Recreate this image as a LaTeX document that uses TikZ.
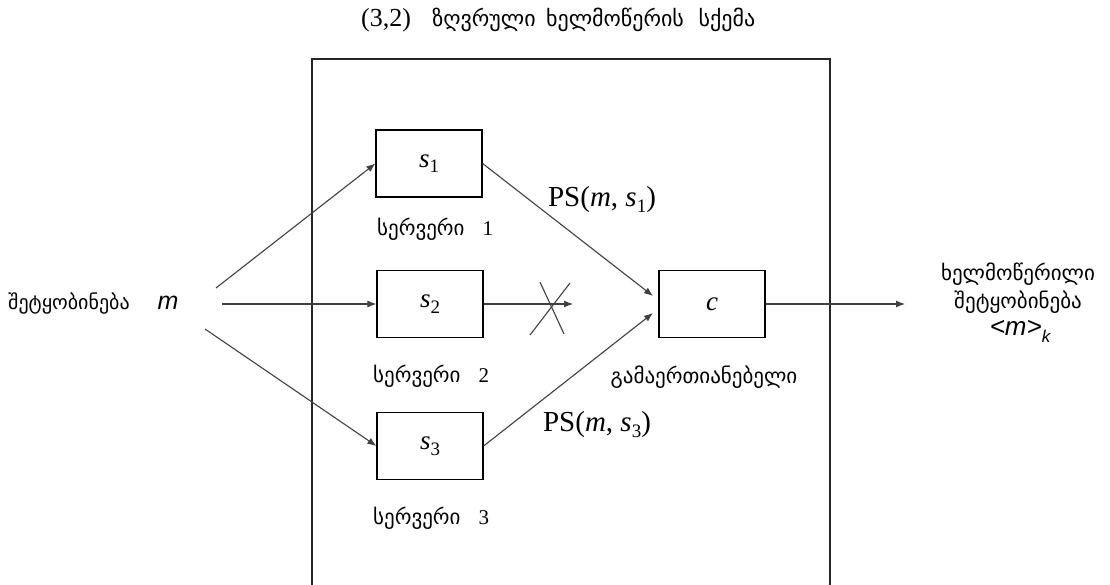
\documentclass[tikz,border=0pt]{standalone}
\usepackage{fontspec}
\setmainfont{Liberation Serif}
\setsansfont{Liberation Sans}
\newfontfamily\geo{DejaVu Sans}
\usetikzlibrary{arrows.meta}

% lowered subscript for the server and signature symbols
\newcommand{\lowsub}[1]{\raisebox{-0.45ex}{\fontsize{19}{19}\selectfont #1}}

\tikzset{
  frame/.style={draw=black!85, line width=1.6pt},
  srvbox/.style={draw, line width=1.2pt, minimum width=106pt, minimum height=67pt,
                 inner sep=0pt, font=\fontsize{27}{27}\selectfont},
  conn/.style={draw=black!75, line width=1.1pt, -{Latex[length=9pt,width=7pt]}},
  plain/.style={draw=black!75, line width=1.1pt},
  geotext/.style={inner sep=0pt, font=\fontsize{21}{24}\selectfont},
  titletext/.style={inner sep=0pt, font=\fontsize{26}{28}\selectfont},
  titlegeo/.style={inner sep=0pt, font=\fontsize{22}{26}\selectfont\geo},
  pslabel/.style={inner sep=0pt, font=\fontsize{29}{31}\selectfont},
}

\begin{document}
\begin{tikzpicture}[x=1pt,y=-1pt]
  \useasboundingbox (0,0) rectangle (1110,585);

  % title
  \node[titletext] (t0) at (386,20) {(3,2)};
  \node[titlegeo]  (t1) at (484,20) {ზღვრული};
  \node[titlegeo]  (t2) at (615,20) {ხელმოწერის};
  \node[titlegeo]  (t3) at (727,20) {სქემა};

  % enclosing frame, open at the bottom
  \draw[frame] (312,585) -- (312,59) -- (830,59) -- (830,585);

  % servers and combiner
  \node[srvbox] (s1) at (429,163.5) {\textit{s}\lowsub{1}};
  \node[srvbox] (s2) at (430,304)   {\textit{s}\lowsub{2}};
  \node[srvbox] (s3) at (430,446)   {\textit{s}\lowsub{3}};
  \node[srvbox] (c)  at (712,304)   {\textit{c}};

  % captions
  \node[geotext, anchor=west] (l1) at (377,229) {{\geo სერვერი}\hspace{18pt}1};
  \node[geotext, anchor=west] (l2) at (373,376) {{\geo სერვერი}\hspace{18pt}2};
  \node[geotext, anchor=west] (l3) at (373,518) {{\geo სერვერი}\hspace{18pt}3};
  \node[geotext] (lc) at (704,377) {\geo გამაერთიანებელი};

  % input message
  \node[geotext, anchor=west, font=\fontsize{20}{24}\selectfont] (msg) at (8,303)
    {{\geo შეტყობინება}\hspace{28pt}{\sffamily\itshape\fontsize{25}{25}\selectfont m}};
  \coordinate (in1) at (216,288);
  \coordinate (in2) at (222,304);
  \coordinate (in3) at (205,329);
  \draw[conn] (in1) -- (s1.west);
  \draw[conn] (in2) -- (s2.west);
  \draw[conn] (in3) -- (s3.west);

  % partial signatures
  \coordinate (c1) at (653,296);
  \coordinate (c3) at (653,313);
  \draw[conn] (s1.east) -- (c1);
  \draw[conn] (s3.east) -- (c3);
  \node[pslabel] (ps1) at (602,200) {PS(\textit{m}, \textit{s}\lowsub{1})};
  \node[pslabel] (ps3) at (597,425) {PS(\textit{m}, \textit{s}\lowsub{3})};

  % failed server: blocked output
  \coordinate (x2) at (573,304);
  \draw[conn] (s2.east) -- (x2);
  \draw[plain] (530,335) -- (570,283);
  \draw[plain] (540,282) -- (564,334);

  % signed message
  \coordinate (out) at (905,304);
  \draw[conn] (c.east) -- (out);
  \node[geotext] (o1) at (1018,274) {\geo ხელმოწერილი};
  \node[geotext] (o2) at (1018,302) {\geo შეტყობინება};
  \node[inner sep=0pt, font=\sffamily\itshape\fontsize{26}{26}\selectfont] (o3) at (1020,331)
    {<m>\raisebox{-0.5ex}{\fontsize{17}{17}\selectfont k}};
\end{tikzpicture}
\end{document}
